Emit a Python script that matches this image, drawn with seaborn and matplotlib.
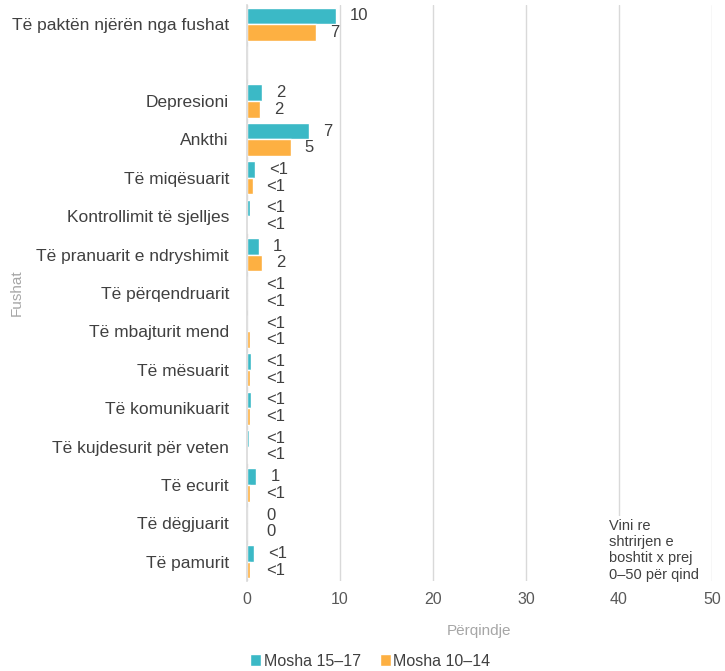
import matplotlib
matplotlib.use("Agg")
import matplotlib.pyplot as plt
import seaborn as sns
import pandas as pd
import numpy as np

categories = ["Të paktën njërën nga fushat", " ", "Depresioni", "Ankthi", "Të miqësuarit",
              "Kontrollimit të sjelljes", "Të pranuarit e ndryshimit", "Të përqendruarit",
              "Të mbajturit mend", "Të mësuarit", "Të komunikuarit", "Të kujdesurit për veten",
              "Të ecurit", "Të dëgjuarit", "Të pamurit"]
series = ["Mosha 15–17", "Mosha 10–14"]
values_15_17 = [9.6, 0, 1.6, 6.7, 0.85, 0.3, 1.3, 0.05, 0.05, 0.4, 0.4, 0.2, 1.0, 0.0, 0.75]
values_10_14 = [7.4, 0, 1.4, 4.7, 0.6, 0.1, 1.6, 0.05, 0.35, 0.3, 0.3, 0.15, 0.35, 0.0, 0.3]
labels_15_17 = ["10", "", "2", "7", "<1", "<1", "1", "<1", "<1", "<1", "<1", "<1", "1", "0", "<1"]
labels_10_14 = ["7", "", "2", "5", "<1", "<1", "2", "<1", "<1", "<1", "<1", "<1", "<1", "0", "<1"]

colors = ["#3BB9C6", "#FDB042"]

sns.set_theme(style="white")
plt.rcParams['font.family'] = ['Liberation Sans', 'DejaVu Sans']

df = pd.DataFrame({
    "Fushat": categories * 2,
    "Përqindje": values_15_17 + values_10_14,
    "Mosha": [series[0]] * len(categories) + [series[1]] * len(categories),
})

fig = plt.figure(figsize=(7.25, 6.71), dpi=100)
ax = fig.add_axes([247 / 725, 1 - 581 / 671, (712 - 247) / 725, (581 - 5) / 671])

sns.barplot(data=df, y="Fushat", x="Përqindje", hue="Mosha", order=categories,
            hue_order=series, palette=colors, orient="h", errorbar=None,
            width=0.86, ax=ax, saturation=1)

ax.set_xlim(0, 50)
ax.set_xticks([0, 10, 20, 30, 40, 50])
ax.xaxis.grid(True, color="#D9D9D9", linewidth=1)
ax.yaxis.grid(False)
ax.set_axisbelow(True)
for s in ["top", "right", "bottom"]:
    ax.spines[s].set_visible(False)
ax.spines["left"].set_color("#D9D9D9")
ax.spines["left"].set_linewidth(1.2)
ax.tick_params(axis="both", length=0, colors="#404040", labelsize=11.5)
ax.tick_params(axis="x", pad=8, labelcolor="#595959")
ax.set_yticks(range(len(categories)))
ax.set_yticklabels(categories, fontsize=12.5, color="#404040")
ax.tick_params(axis="y", pad=13)

ax.set_xlabel("Përqindje", color="#A6A6A6", fontsize=11, labelpad=12)
ax.set_ylabel("Fushat", color="#A6A6A6", fontsize=11)
ax.yaxis.set_label_coords(-(247 - 24) / 465, 0.5)

# value labels
for cont, labs in zip(ax.containers, [labels_15_17, labels_10_14]):
    for bar, lab in zip(cont, labs):
        if lab == "":
            continue
        w = bar.get_width()
        y = bar.get_y() + bar.get_height() / 2
        x = max(w, 0.6) + 1.5
        ax.text(x, y, lab, va="center", ha="left", fontsize=12, color="#404040")

ax.text(38.9, 13.7, "Vini re\nshtrirjen e\nboshtit x prej\n0–50 për qind",
        fontsize=10.5, color="#404040", va="center", ha="left", linespacing=1.2,
        bbox=dict(facecolor="white", edgecolor="none", pad=2))

leg = ax.legend(loc="center", bbox_to_anchor=(0.265, -0.139), ncol=2, frameon=False,
                fontsize=11.5, handlelength=0.7, handleheight=0.7, handletextpad=0.15,
                columnspacing=1.2, labelcolor="#404040")

fig.savefig("out.png", dpi=100)
